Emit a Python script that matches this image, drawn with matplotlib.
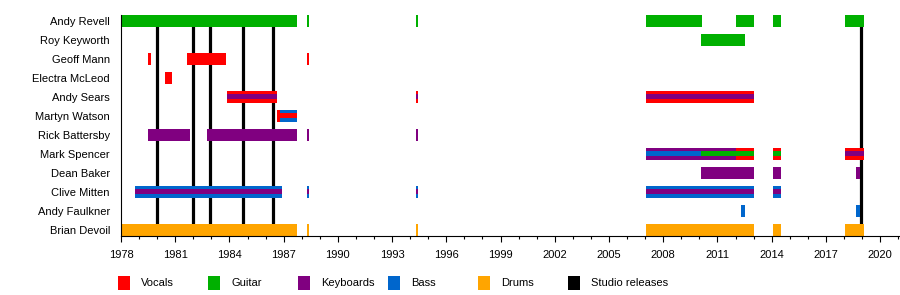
"""Band member timeline"""
import matplotlib; matplotlib.use('Agg')
import matplotlib.pyplot as plt
from matplotlib.patches import Rectangle
from matplotlib.ticker import FixedLocator, MultipleLocator
from matplotlib import font_manager

names = [f.name for f in font_manager.fontManager.ttflist]
font = 'Liberation Sans Narrow' if 'Liberation Sans Narrow' in names else 'Liberation Sans'
plt.rcParams['font.family'] = [font, 'DejaVu Sans']
fs = 8

# members, top to bottom
members = ['Andy Revell', 'Roy Keyworth', 'Geoff Mann', 'Electra McLeod', 'Andy Sears',
           'Martyn Watson', 'Rick Battersby', 'Mark Spencer', 'Dean Baker', 'Clive Mitten',
           'Andy Faulkner', 'Brian Devoil']

role_colors = {'Vocals': '#ff0000', 'Guitar': '#00b000', 'Keyboards': '#800080',
               'Bass': '#0066cc', 'Drums': '#ffa500'}

# full-height bars: (member, role, start, end)
main_bars = [
    ('Andy Revell', 'Guitar', 1978.0, 1987.72),
    ('Andy Revell', 'Guitar', 1988.27, 1988.38),
    ('Andy Revell', 'Guitar', 1994.32, 1994.42),
    ('Andy Revell', 'Guitar', 2007.05, 2010.15),
    ('Andy Revell', 'Guitar', 2012.03, 2013.03),
    ('Andy Revell', 'Guitar', 2014.08, 2014.52),
    ('Andy Revell', 'Guitar', 2018.07, 2019.12),
    ('Roy Keyworth', 'Guitar', 2010.1, 2012.53),
    ('Geoff Mann', 'Vocals', 1979.48, 1979.64),
    ('Geoff Mann', 'Vocals', 1981.65, 1983.79),
    ('Geoff Mann', 'Vocals', 1988.27, 1988.38),
    ('Electra McLeod', 'Vocals', 1980.43, 1980.82),
    ('Andy Sears', 'Vocals', 1983.87, 1986.63),
    ('Andy Sears', 'Vocals', 1994.32, 1994.42),
    ('Andy Sears', 'Vocals', 2007.05, 2013.03),
    ('Martyn Watson', 'Vocals', 1986.63, 1986.8),
    ('Martyn Watson', 'Bass', 1986.8, 1987.72),
    ('Rick Battersby', 'Keyboards', 1979.51, 1981.82),
    ('Rick Battersby', 'Keyboards', 1982.76, 1987.72),
    ('Rick Battersby', 'Keyboards', 1988.27, 1988.38),
    ('Rick Battersby', 'Keyboards', 1994.32, 1994.42),
    ('Mark Spencer', 'Keyboards', 2007.05, 2012.03),
    ('Mark Spencer', 'Vocals', 2012.03, 2013.03),
    ('Mark Spencer', 'Vocals', 2014.08, 2014.52),
    ('Mark Spencer', 'Vocals', 2018.07, 2019.12),
    ('Dean Baker', 'Keyboards', 2010.1, 2013.03),
    ('Dean Baker', 'Keyboards', 2014.08, 2014.52),
    ('Dean Baker', 'Keyboards', 2018.68, 2018.9),
    ('Clive Mitten', 'Bass', 1978.77, 1986.89),
    ('Clive Mitten', 'Bass', 1988.27, 1988.38),
    ('Clive Mitten', 'Bass', 1994.32, 1994.42),
    ('Clive Mitten', 'Bass', 2007.05, 2013.03),
    ('Clive Mitten', 'Bass', 2014.08, 2014.52),
    ('Andy Faulkner', 'Bass', 2012.31, 2012.53),
    ('Andy Faulkner', 'Bass', 2018.68, 2018.9),
    ('Brian Devoil', 'Drums', 1978.0, 1987.72),
    ('Brian Devoil', 'Drums', 1988.27, 1988.38),
    ('Brian Devoil', 'Drums', 1994.32, 1994.42),
    ('Brian Devoil', 'Drums', 2007.05, 2013.03),
    ('Brian Devoil', 'Drums', 2014.08, 2014.52),
    ('Brian Devoil', 'Drums', 2018.07, 2019.12),
]

# thin inner stripes for secondary roles
inner_bars = [
    ('Andy Sears', 'Keyboards', 1983.87, 1986.63),
    ('Andy Sears', 'Keyboards', 1994.32, 1994.42),
    ('Andy Sears', 'Keyboards', 2007.05, 2013.03),
    ('Martyn Watson', 'Vocals', 1986.63, 1987.72),
    ('Mark Spencer', 'Bass', 2007.05, 2010.1),
    ('Mark Spencer', 'Guitar', 2010.1, 2013.03),
    ('Mark Spencer', 'Guitar', 2014.08, 2014.52),
    ('Mark Spencer', 'Keyboards', 2018.07, 2019.12),
    ('Clive Mitten', 'Keyboards', 1978.77, 1986.89),
    ('Clive Mitten', 'Keyboards', 1988.27, 1988.38),
    ('Clive Mitten', 'Keyboards', 1994.32, 1994.42),
    ('Clive Mitten', 'Keyboards', 2007.05, 2013.03),
    ('Clive Mitten', 'Keyboards', 2014.08, 2014.52),
]

releases = [1979.98, 1981.96, 1982.9, 1984.75, 1986.41, 2018.95]
year_ticks = list(range(1978, 2021, 3))

fig = plt.figure(figsize=(9, 2.95), dpi=100)
ax = fig.add_axes([121/900, 1 - 235.5/295, 1 - 121/900, 220.6/295])

ypos = {m: len(members) - 1 - i for i, m in enumerate(members)}
bar_h, inner_h = 0.62, 0.25

for x in releases:
    ax.axvline(x, color='black', lw=2.3, zorder=1)

for m, role, s, e in main_bars:
    ax.barh(ypos[m], e - s, left=s, height=bar_h, color=role_colors[role], lw=0, zorder=2)
for m, role, s, e in inner_bars:
    ax.barh(ypos[m], e - s, left=s, height=inner_h, color=role_colors[role], lw=0, zorder=3)

ax.set_xlim(1978, 2021.1)
ax.set_ylim(-0.31, 11.31)
ax.set_yticks(range(len(members)))
ax.set_yticklabels(members[::-1], fontsize=fs)
ax.tick_params(axis='y', length=0, pad=8)
ax.xaxis.set_major_locator(FixedLocator(year_ticks))
ax.xaxis.set_minor_locator(MultipleLocator(1))
ax.tick_params(axis='x', which='major', length=4.5, width=0.8, labelsize=fs, pad=6)
ax.tick_params(axis='x', which='minor', length=2.5, width=0.8)
for sp in ['top', 'right']:
    ax.spines[sp].set_visible(False)
for sp in ['left', 'bottom']:
    ax.spines[sp].set_linewidth(0.8)

# legend along the bottom
legend_items = list(role_colors.items()) + [('Studio releases', 'black')]
for i, (label, col) in enumerate(legend_items):
    x0 = 118 + 90 * i
    fig.patches.append(Rectangle((x0 / 900, 1 - 290 / 295), 12 / 900, 14 / 295,
                                 transform=fig.transFigure, color=col, lw=0))
    fig.text((x0 + 23) / 900, 1 - 283 / 295, label, fontsize=fs, va='center', ha='left')

fig.savefig('out.png', dpi=100, facecolor='white')
